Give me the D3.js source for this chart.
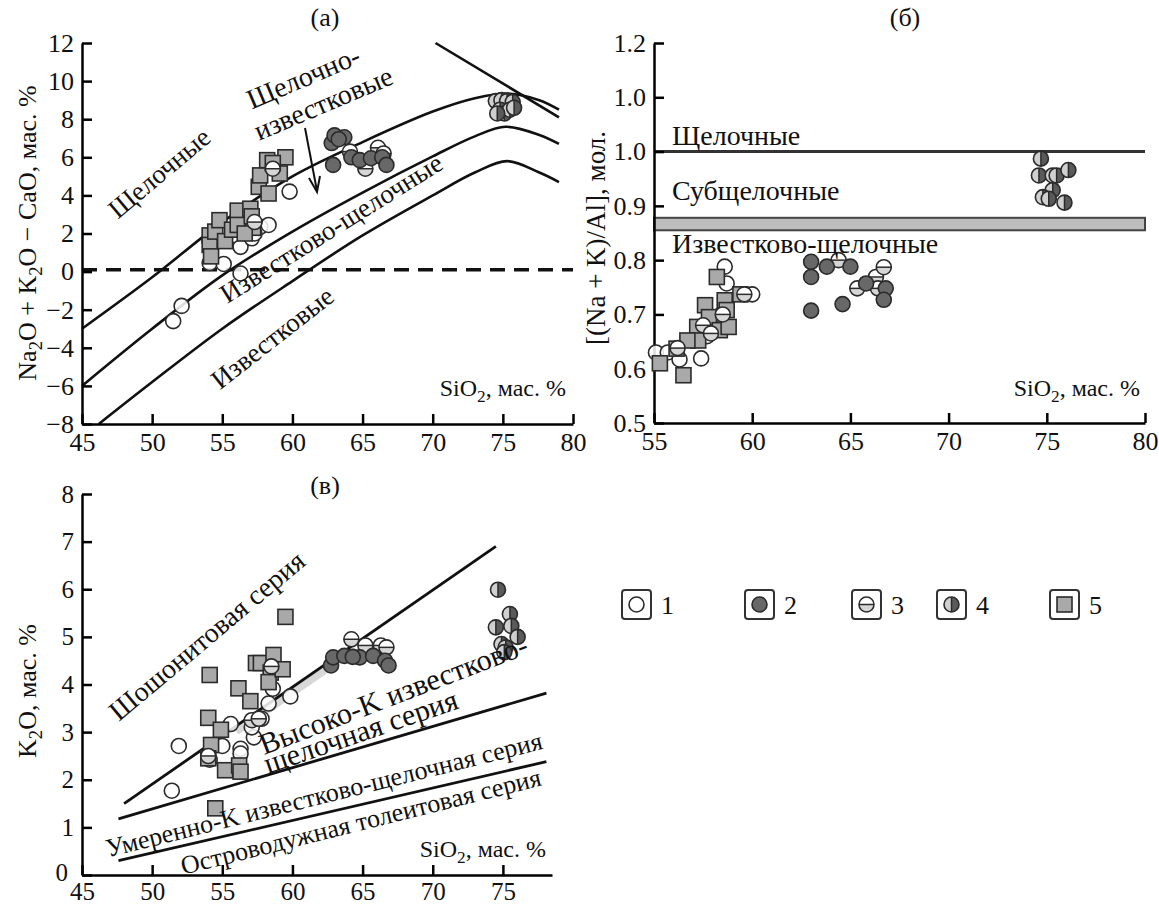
<!DOCTYPE html>
<html><head><meta charset="utf-8">
<script src="https://cdn.jsdelivr.net/npm/d3@7"></script>
<style>
body{margin:0;background:#fff}
svg text{font-family:"Liberation Serif","Times New Roman",serif;fill:#111}
</style></head>
<body><svg id="c" width="1159" height="909"></svg>
<script>
// ---------- DATA ----------
// Panel (а): SiO2 vs Na2O+K2O−CaO
const aTicksX = [45,50,55,60,65,70,75,80];
const aTicksY = [-8,-6,-4,-2,0,2,4,6,8,10,12];
const aCurve1 = [[45,-3.0],[50,-0.3],[55,2.6],[60,5.0],[65,6.8],[70,8.4],[73,9.1],[75.3,9.35],[77.6,9.0],[79,8.5]];
const aCurve2 = [[45,-6.0],[50,-3.0],[55,-0.2],[60,2.1],[65,4.15],[70,6.05],[73,7.1],[75.2,7.6],[77.6,7.17],[79,6.7]];
const aCurve3 = [[46.2,-8.0],[50,-5.8],[55,-3.0],[60,-0.5],[65,1.9],[70,4.0],[73,5.2],[75.3,5.8],[77.6,5.2],[79,4.7]];
const aLineTop = [[70.2,12.0],[79.0,8.1]];
const aZero = [[45,0.1],[80,0.1]];
const aG1 = [[51.5,-2.6],[52.1,-1.8],[54.1,0.45],[55.1,0.4],[56.3,-0.1],[56.3,1.3],[57.1,1.75],[57.7,2.35],[58.3,2.45],[59.8,4.2],[55.7,1.9],[57.3,2.0]];
const aG2 = [[62.8,6.75],[63.0,7.15],[63.7,7.05],[62.9,5.6],[64.2,6.0],[64.8,5.85],[65.6,5.95],[66.4,6.0],[66.7,5.6],[63.3,6.95]];
const aG3 = [[58.6,5.4],[64.1,6.3],[65.2,5.4],[66.1,6.5],[66.5,6.2],[57.3,2.6]];
const aG4 = [[74.5,8.95],[74.9,9.0],[75.3,8.95],[75.7,8.9],[74.8,8.5],[75.1,8.3],[75.5,8.5],[75.8,8.6],[74.6,8.3]];
const aG5 = [[54.1,1.9],[54.1,1.4],[54.2,0.8],[54.5,2.1],[54.8,2.7],[55.2,1.6],[55.7,2.2],[56.1,3.2],[56.1,2.45],[57.0,3.3],[57.2,2.3],[57.1,2.9],[57.6,4.45],[57.7,5.05],[58.2,5.85],[58.3,4.1],[59.1,5.15],[59.5,6.0],[58.6,5.7],[56.6,2.0]];

// Panel (б): SiO2 vs [(Na+K)/Al]
const bTicksX = [55,60,65,70,75,80];
const bTicksY = [0.5,0.6,0.7,0.8,0.9,1.0,1.1,1.2];
const bTickLabels = ["0.5","0.6","0.7","0.8","0.9","1.0","1.0","1.2"];
const bAlkLine = 1.0;
const bBand = [0.855,0.878];
const bG1 = [[55.1,0.63],[55.7,0.63],[56.3,0.617],[57.4,0.619],[58.6,0.788],[58.7,0.757],[58.4,0.699],[57.7,0.66],[60.0,0.737]];
const bG2 = [[63.0,0.797],[63.8,0.788],[65.0,0.788],[63.0,0.769],[64.6,0.719],[63.0,0.707],[65.8,0.757],[66.8,0.748],[66.7,0.727]];
const bG3 = [[64.4,0.8],[65.35,0.748],[66.3,0.769],[66.7,0.787],[66.4,0.748],[56.2,0.638],[57.5,0.68],[57.9,0.665],[59.6,0.737],[58.5,0.70]];
const bG4 = [[74.7,0.987],[74.6,0.956],[75.3,0.956],[75.5,0.956],[76.1,0.966],[75.3,0.929],[74.8,0.916],[75.1,0.913],[75.9,0.906]];
const bG5 = [[55.3,0.61],[56.5,0.588],[56.15,0.637],[57.2,0.677],[57.25,0.652],[57.6,0.717],[57.8,0.695],[58.2,0.769],[58.6,0.726],[58.7,0.708],[58.35,0.671],[58.8,0.677],[59.4,0.737],[56.7,0.652]];

// Panel (в): SiO2 vs K2O
const cTicksX = [45,50,55,60,65,70,75];
const cTicksY = [0,1,2,3,4,5,6,7,8];
const cShosh = [[48,1.5],[74.5,6.9]];
const cShade = [[56,3.05],[64.5,4.78]];
const cHighK = [[47.6,1.18],[78.1,3.82]];
const cLowK = [[47.6,0.3],[78.1,2.38]];
const cG1 = [[51.4,1.77],[51.9,2.71],[54.1,2.42],[55.0,2.71],[55.6,3.17],[56.3,2.65],[56.3,2.55],[57.25,2.89],[57.8,3.28],[58.3,3.6],[58.6,3.91],[59.85,3.75],[57.1,3.1]];
const cG2 = [[62.75,4.4],[62.9,4.57],[63.7,4.6],[64.8,4.57],[65.75,4.6],[66.6,4.5],[66.85,4.4],[64.3,4.58]];
const cG3 = [[64.2,4.95],[65.2,4.82],[66.3,4.82],[66.7,4.78],[57.1,3.25],[57.6,3.28],[58.5,4.38],[54.0,2.5]];
const cG4 = [[74.65,5.99],[74.5,5.2],[75.5,5.48],[75.6,5.23],[76.05,5.0],[74.9,4.85],[75.2,4.78],[75.1,4.68]];
const cG5 = [[54.1,4.2],[54.0,3.3],[54.2,2.73],[54.0,2.45],[54.9,3.05],[55.2,2.2],[56.15,3.92],[56.2,2.3],[56.3,2.17],[57.0,3.65],[57.4,4.45],[57.75,4.45],[58.65,4.62],[58.45,4.25],[58.3,4.05],[59.3,4.32],[59.5,5.42],[54.5,1.4]];

const legendLabels = ["1","2","3","4","5"];

// ---------- DRAW ----------
const svg = d3.select("#c");
const FS = 26;      // tick labels
const FA = 27;      // annotations

const xA = d3.scaleLinear([45,80],[82,573]);
const yA = d3.scaleLinear([-8,12],[424,43]);
const xB = d3.scaleLinear([55,80],[654,1145]);
const yB = d3.scaleLinear([0.5,1.2],[423,43]);
const xC = d3.scaleLinear([45,78.5],[82,552]);
const yC = d3.scaleLinear([0,8],[875,494]);

function axes(x, y, xt, yt, yfmt, xpad, fs){
  const f = fs || FS;
  const gx = svg.append("g").attr("transform",`translate(0,${y.range()[0]})`)
    .call(d3.axisBottom(x).tickValues(xt).tickSizeInner(-10).tickSizeOuter(0).tickPadding(xpad||8));
  const gy = svg.append("g").attr("transform",`translate(${x.range()[0]},0)`)
    .call(d3.axisLeft(y).tickValues(yt).tickSizeInner(-10).tickSizeOuter(0).tickPadding(8)
      .tickFormat(yfmt || d3.format("d")));
  [gx,gy].forEach(g=>{
    g.select(".domain").attr("stroke","#000").attr("stroke-width",2.5);
    g.selectAll(".tick line").attr("stroke","#000").attr("stroke-width",2.5);
    g.selectAll(".tick text").attr("font-size",f).attr("font-family","Liberation Serif").attr("fill","#111");
  });
  return gy;
}

function path(pts, x, y, w, col, curve){
  svg.append("path").datum(pts)
    .attr("d", d3.line().x(d=>x(d[0])).y(d=>y(d[1])).curve(curve||d3.curveLinear))
    .attr("fill","none").attr("stroke",col||"#111").attr("stroke-width",w||2.6);
}

function drawSym(sel, type){
  const r = 7.5, st="#2b2b2b", sw=1.6;
  if(type===5){
    sel.append("rect").attr("x",-7.5).attr("y",-7.5).attr("width",15).attr("height",15)
      .attr("fill","#a9a9a9").attr("stroke",st).attr("stroke-width",sw);
  } else if(type===1){
    sel.append("circle").attr("r",r).attr("fill","#fff").attr("fill-opacity",0.85).attr("stroke",st).attr("stroke-width",sw);
  } else if(type===2){
    sel.append("circle").attr("r",r).attr("fill","#686868").attr("stroke",st).attr("stroke-width",sw);
  } else if(type===3){
    sel.append("circle").attr("r",r).attr("fill","#fff").attr("stroke","none");
    sel.append("path").attr("d",`M${-r},0 A${r},${r} 0 0 0 ${r},0 Z`).attr("fill","#d6d6d6");
    sel.append("line").attr("x1",-r).attr("x2",r).attr("stroke",st).attr("stroke-width",1.5);
    sel.append("circle").attr("r",r).attr("fill","none").attr("stroke",st).attr("stroke-width",sw);
  } else if(type===4){
    sel.append("circle").attr("r",r).attr("fill","#d0d0d0").attr("stroke","none");
    sel.append("path").attr("d",`M0,${-r} A${r},${r} 0 0 1 0,${r} Z`).attr("fill","#5a5a5a");
    sel.append("line").attr("y1",-r).attr("y2",r).attr("stroke",st).attr("stroke-width",1.5);
    sel.append("circle").attr("r",r).attr("fill","none").attr("stroke",st).attr("stroke-width",sw);
  }
}
function markers(data, x, y, type){
  const g = svg.append("g").selectAll("g").data(data).enter().append("g")
    .attr("transform", d=>`translate(${x(d[0])},${y(d[1])})`);
  drawSym(g, type);
}

function text(str, x, y, opts={}){
  const size = opts.size||FA;
  const t = svg.append("text").attr("x",x).attr("y",y).attr("font-size",size)
    .attr("text-anchor",opts.anchor||"middle");
  if(opts.rot!==undefined) t.attr("transform",`rotate(${opts.rot},${x},${y})`);
  if(Array.isArray(str)){
    str.forEach(p=>{
      if(p[1]) t.append("tspan").attr("font-size",size*0.72).attr("dy",6).text(p[0]);
      else t.append("tspan").attr("dy",p[2]||0).text(p[0]);
    });
  } else t.text(str);
  return t;
}
function sio2(x,y){
  text([["SiO"],["2",true],[", мас. %",false,-6]], x, y, {anchor:"end", size:24});
}

// ---- Panel (а)
path(aCurve1, xA, yA, 2.6, "#111", d3.curveCatmullRom);
path(aCurve2, xA, yA, 2.6, "#111", d3.curveCatmullRom);
path(aCurve3, xA, yA, 2.6, "#111", d3.curveCatmullRom);
path(aLineTop, xA, yA, 2.6);
svg.append("path").datum(aZero).attr("d",d3.line().x(d=>xA(d[0])).y(d=>yA(d[1])))
  .attr("stroke","#111").attr("stroke-width",3.5).attr("stroke-dasharray","15,9").attr("fill","none");
axes(xA, yA, aTicksX, aTicksY, d=>d3.format("d")(d).replace("-","−"), 9);
markers(aG1, xA, yA, 1);
markers(aG5, xA, yA, 5);
markers(aG3, xA, yA, 3);
markers(aG2, xA, yA, 2);
markers(aG4, xA, yA, 4);
text("(а)", 325, 26, {size:26});
text("Щелочные", 165, 180, {rot:-40});
text("Щелочно-", 307, 86, {rot:-23, size:28});
text("известковые", 327, 112, {rot:-23, size:28});
text("Известково-щелочные", 336, 236, {rot:-32});
text("Известковые", 278, 345, {rot:-38});
// arrow
svg.append("line").attr("x1",305).attr("y1",128).attr("x2",317).attr("y2",191).attr("stroke","#111").attr("stroke-width",2);
svg.append("path").attr("d","M309,178 L317,192 L320,176").attr("fill","none").attr("stroke","#111").attr("stroke-width",2);
sio2(566, 396);
text([["Na"],["2",true],["O + K",false,-6],["2",true],["O − CaO, мас. %",false,-6]], 36, 233, {rot:-90, size:26});

// ---- Panel (б)
svg.append("rect").attr("x",xB(55)).attr("width",xB(80)-xB(55))
  .attr("y",yB(bBand[1])).attr("height",yB(bBand[0])-yB(bBand[1]))
  .attr("fill","#bdbdbd").attr("stroke","#444").attr("stroke-width",2);
svg.append("line").attr("x1",xB(55)).attr("x2",xB(80)).attr("y1",yB(bAlkLine)).attr("y2",yB(bAlkLine))
  .attr("stroke","#333").attr("stroke-width",3);
axes(xB, yB, bTicksX, bTicksY, (d,i)=>bTickLabels[i], 9);
markers(bG1, xB, yB, 1);
markers(bG5, xB, yB, 5);
markers(bG3, xB, yB, 3);
markers(bG2, xB, yB, 2);
markers(bG4, xB, yB, 4);
text("(б)", 905, 26, {size:26});
text("Щелочные", 672, 145, {anchor:"start", size:28});
text("Субщелочные", 672, 200, {anchor:"start", size:28});
text("Известково-щелочные", 672, 253, {anchor:"start", size:28});
sio2(1140, 396);
text("[(Na + K)/Al], мол.", 605, 238, {rot:-90, size:27});

// ---- Panel (в)
path(cShade, xC, d=>yC(d)+2, 7, "#d8d8d8");
path(cShosh, xC, yC, 2.8);
path(cHighK, xC, yC, 2.8);
path(cLowK, xC, yC, 2.8);
const gyC = axes(xC, yC, cTicksX, cTicksY, null, 7, 25);
gyC.selectAll(".tick text").filter(d=>d===0).attr("dx",-6).attr("dy","0.2em");
markers(cG1, xC, yC, 1);
markers(cG5, xC, yC, 5);
markers(cG3, xC, yC, 3);
markers(cG2, xC, yC, 2);
markers(cG4, xC, yC, 4);
text("(в)", 325, 494, {size:26});
text("Шошонитовая серия", 213, 643, {rot:-40, size:28});
text("Высоко-K известково-", 397, 704, {rot:-21, size:30});
text("щелочная серия", 364, 741, {rot:-19, size:30});
text("Умеренно-K известково-щелочная серия", 326, 803, {rot:-14, size:26});
text("Островодужная толеитовая серия", 363, 830, {rot:-14, size:26});
sio2(546, 857);
text([["K"],["2",true],["O, мас. %",false,-6]], 36, 691, {rot:-90, size:26});

// ---- Legend
const legX = [622, 745, 852, 937, 1050];
legendLabels.forEach((lab,i)=>{
  const g = svg.append("g").attr("transform",`translate(${legX[i]},590)`);
  g.append("rect").attr("width",29).attr("height",29).attr("rx",3).attr("fill","#fff")
    .attr("stroke","#333").attr("stroke-width",2);
  const s = g.append("g").attr("transform","translate(14.5,14.5)");
  drawSym(s, i+1);
  g.append("text").attr("x",39).attr("y",24).attr("font-size",FS).attr("text-anchor","start").text(lab);
});
</script></body></html>
